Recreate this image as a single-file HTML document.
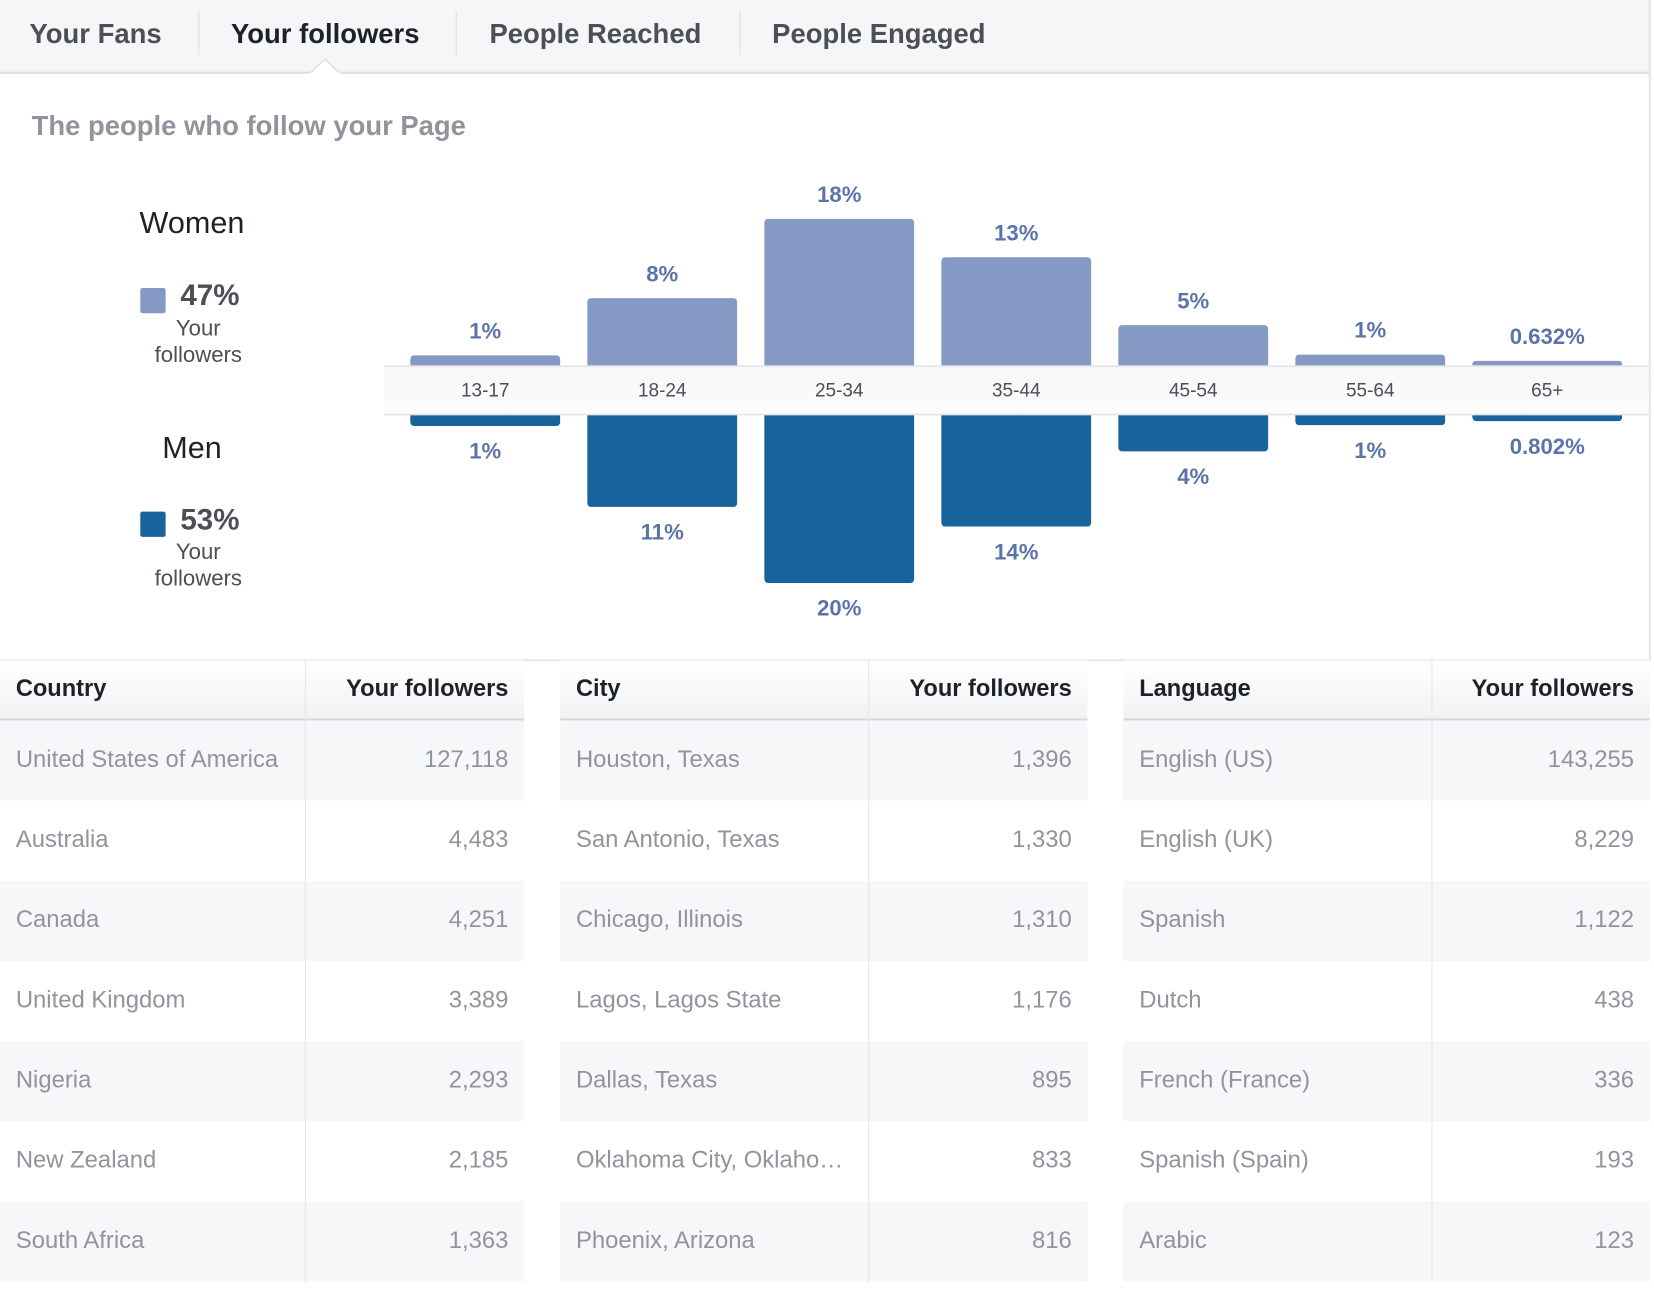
<!DOCTYPE html>
<html><head><meta charset="utf-8">
<style>
html,body{margin:0;padding:0;width:1654px;height:1293px;overflow:hidden;background:#fff;font-family:"Liberation Sans",Arial,sans-serif}
#root{position:absolute;left:0;top:0;width:1568px;height:1226px;transform:scale(1.05485);transform-origin:0 0}
.abs{position:absolute}
.tab{position:absolute;top:17px;font-size:26px;font-weight:bold;color:#4b4f56;white-space:nowrap}
.sep{position:absolute;top:10px;width:1px;height:42px;background:#dddfe2}
.tbl{position:absolute;top:626px;height:590px}
.hdr{position:absolute;top:0;height:55px;left:0;right:0;background:linear-gradient(#fff,#f1f2f4);border-bottom:2px solid #d3d6db}
.hdr span{position:absolute;top:14px;font-size:22.4px;font-weight:bold;color:#1d2129}
.row{position:absolute;left:0;right:0;height:76px}
.row span{position:absolute;top:24px;font-size:22.6px;color:#90949c;white-space:nowrap}
.vdiv{position:absolute;top:0;width:1px;height:590px;background:#e5e6e9}
</style></head><body>
<div id="root">
<div class="abs" style="left:0;top:0;width:1563px;height:68px;background:#f5f6f7;border-bottom:2px solid #dddfe2"></div>
<div class="tab" style="left:28px">Your Fans</div>
<div class="sep" style="left:188px"></div>
<div class="tab" style="left:219px;color:#1d2129">Your followers</div>
<div class="sep" style="left:432px"></div>
<div class="tab" style="left:464px">People Reached</div>
<div class="sep" style="left:701px"></div>
<div class="tab" style="left:732px">People Engaged</div>
<svg class="abs" style="left:293px;top:55px" width="30" height="16"><polygon points="0,15 15,1 30,15" fill="#fff" stroke="#dddfe2" stroke-width="1.5"/><rect x="0" y="14" width="30" height="3" fill="#fff"/></svg>
<div class="abs" style="left:1563px;top:0;width:2px;height:626px;background:#e5e6e9"></div>
<div class="abs" style="left:30px;top:104px;font-size:26px;font-weight:bold;color:#90949c">The people who follow your Page</div>

<div class="abs" style="left:100px;width:164px;text-align:center;top:196px;font-size:29px;color:#1d2129">Women</div>
<div class="abs" style="left:133px;top:273px;width:24px;height:24px;background:#8499c4;border-radius:2px"></div>
<div class="abs" style="left:171px;top:264px;font-size:28px;font-weight:bold;color:#4b4f56">47%</div>
<div class="abs" style="left:120px;width:136px;text-align:center;top:299px;font-size:21px;line-height:25px;color:#4b4f56">Your<br>followers</div>
<div class="abs" style="left:100px;width:164px;text-align:center;top:409px;font-size:29px;color:#1d2129">Men</div>
<div class="abs" style="left:133px;top:485px;width:24px;height:24px;background:#17639c;border-radius:2px"></div>
<div class="abs" style="left:171px;top:477px;font-size:28px;font-weight:bold;color:#4b4f56">53%</div>
<div class="abs" style="left:120px;width:136px;text-align:center;top:511px;font-size:21px;line-height:25px;color:#4b4f56">Your<br>followers</div>

<svg id="chart" class="abs" style="left:0;top:0" width="1568" height="626"></svg>

<div id="tables"></div>
</div>
<script>
const ageGroups=["13-17","18-24","25-34","35-44","45-54","55-64","65+"];
const womenValues=[1.3,8.3,18,13.3,5,1.4,0.632];
const womenLabels=["1%","8%","18%","13%","5%","1%","0.632%"];
const menValues=[1.4,11.3,20.6,13.7,4.5,1.3,0.802];
const menLabels=["1%","11%","20%","14%","4%","1%","0.802%"];

const NS="http://www.w3.org/2000/svg";
const svg=document.getElementById('chart');
const bandTop=347,bandBot=393,pxPer=7.75,x0=460,step=167.8,bw=142;
function xc(i){return x0+i*step;}
function h(v){return v*pxPer;}
function mk(tag,attrs){const e=document.createElementNS(NS,tag);for(const k in attrs)e.setAttribute(k,attrs[k]);svg.appendChild(e);return e;}
function barPath(x,y,w,hh,up){const r=Math.min(4,hh/2);
 if(up)return `M${x},${y+hh}V${y+r}Q${x},${y} ${x+r},${y}H${x+w-r}Q${x+w},${y} ${x+w},${y+r}V${y+hh}Z`;
 return `M${x},${y}V${y+hh-r}Q${x},${y+hh} ${x+r},${y+hh}H${x+w-r}Q${x+w},${y+hh} ${x+w},${y+hh-r}V${y}Z`;}
ageGroups.forEach((g,i)=>{
 const hw=h(womenValues[i]);
 const p=mk('path',{d:barPath(xc(i)-bw/2,bandTop-hw,bw,hw+2,true),fill:'#8499c4'});
 
 
 const t=mk('text',{x:xc(i),y:bandTop-hw-16,'text-anchor':'middle','font-size':21,'font-weight':'bold',fill:'#5b74a8','font-family':'Liberation Sans, sans-serif'});
 t.textContent=womenLabels[i];
 
 
 const hm=h(menValues[i]);
 const q=mk('path',{d:barPath(xc(i)-bw/2,bandBot-2,bw,hm+2,false),fill:'#17639c'});
 
 
 const u=mk('text',{x:xc(i),y:bandBot+hm+31,'text-anchor':'middle','font-size':21,'font-weight':'bold',fill:'#5b74a8','font-family':'Liberation Sans, sans-serif'});
 u.textContent=menLabels[i];
 
 
});
const defs=mk('defs',{});
defs.innerHTML='<linearGradient id="bg" x1="0" y1="0" x2="0" y2="1"><stop offset="0" stop-color="#f7f7f8"/><stop offset="1" stop-color="#fcfcfd"/></linearGradient>';
const band=mk('rect',{x:364,y:bandTop,width:1199,height:bandBot-bandTop,fill:'url(#bg)'});


mk('line',{x1:364,x2:1563,y1:bandTop,y2:bandTop,stroke:'#e3e4e6','stroke-width':1.5});
mk('line',{x1:364,x2:1563,y1:bandBot,y2:bandBot,stroke:'#e3e4e6','stroke-width':1.5});
ageGroups.forEach((g,i)=>{
 const t=mk('text',{x:xc(i),y:376,'text-anchor':'middle','font-size':18,fill:'#4b4f56','font-family':'Liberation Sans, sans-serif'});
 t.textContent=g;
 
 
});

const tables=[
 {x:0,w:497,div:289,name:"country",h:"Country",rows:[["United States of America","127,118"],["Australia","4,483"],["Canada","4,251"],["United Kingdom","3,389"],["Nigeria","2,293"],["New Zealand","2,185"],["South Africa","1,363"]]},
 {x:531,w:500,div:292,name:"city",h:"City",rows:[["Houston, Texas","1,396"],["San Antonio, Texas","1,330"],["Chicago, Illinois","1,310"],["Lagos, Lagos State","1,176"],["Dallas, Texas","895"],["Oklahoma City, Oklaho…","833"],["Phoenix, Arizona","816"]]},
 {x:1065,w:499,div:292,name:"language",h:"Language",rows:[["English (US)","143,255"],["English (UK)","8,229"],["Spanish","1,122"],["Dutch","438"],["French (France)","336"],["Spanish (Spain)","193"],["Arabic","123"]]}
];
let html='<div class="abs" style="left:0;top:625px;width:1565px;height:2px;background:#e5e6e9"></div>';
tables.forEach(t=>{
 html+=`<div class="tbl" style="left:${t.x}px;width:${t.w}px">`;
 html+=`<div class="hdr"><span style="left:15px">${t.h}</span><span style="right:15px">Your followers</span></div>`;
 t.rows.forEach((r,i)=>{
  html+=`<div class="row" style="top:${57+i*76}px;background:${i%2==0?'#f6f7f9':'#fff'}"><span style="left:15px">${r[0]}</span><span style="right:15px">${r[1]}</span></div>`;
 });
 html+=`<div class="vdiv" style="left:${t.div}px"></div>`;
 html+='</div>';
});
document.getElementById('tables').innerHTML=html;
</script>
</body></html>
